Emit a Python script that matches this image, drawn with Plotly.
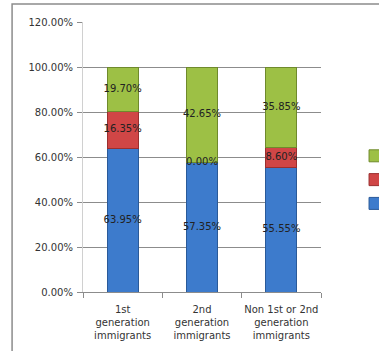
import plotly.graph_objects as go

categories = ["1st<br>generation<br>immigrants", "2nd<br>generation<br>immigrants", "Non 1st or 2nd<br>generation<br>immigrants"]
blue_vals = [63.95, 57.35, 55.55]
red_vals = [16.35, 0.00, 8.60]
green_vals = [19.70, 42.65, 35.85]
y_ticks = [0, 20, 40, 60, 80, 100, 120]

series = [
    ("", blue_vals, "#3d7bcc", "#2a5a99"),
    (" ", red_vals, "#d04646", "#9a2f2f"),
    ("  ", green_vals, "#9dc045", "#6f8a2c"),
]

fig = go.Figure()
base = [0.0] * len(categories)
label_x, label_y, label_t = [], [], []
for name, vals, col, edge in series:
    fig.add_trace(go.Bar(
        x=categories, y=vals, name=name,
        marker=dict(color=col, line=dict(color=edge, width=1)),
        showlegend=True, hoverinfo="skip",
    ))
    for i, v in enumerate(vals):
        label_x.append(categories[i])
        label_y.append(base[i] + v / 2)
        label_t.append(f"{v:.2f}%")
        base[i] += v

fig.add_trace(go.Scatter(
    x=label_x, y=label_y, text=label_t, mode="text",
    textfont=dict(family="DejaVu Sans", size=10, color="#222222"),
    showlegend=False, hoverinfo="skip",
))

fig.add_shape(type="rect", xref="paper", yref="paper",
              x0=-0.298, y0=-0.5, x1=1.6, y1=1.067,
              line=dict(color="#8c8c8c", width=1.5), fillcolor="rgba(0,0,0,0)", layer="below")

fig.update_layout(
    width=379, height=351,
    margin=dict(l=83, r=58, t=22, b=59, autoexpand=False),
    barmode="stack", bargap=0.61,
    plot_bgcolor="white", paper_bgcolor="white",
    font=dict(family="DejaVu Sans", size=10, color="#333333"),
    legend=dict(x=1.143, y=0.567, xanchor="left", yanchor="top",
                traceorder="reversed", font=dict(size=16),
                bgcolor="rgba(0,0,0,0)"),
    xaxis=dict(showline=True, linecolor="#8c8c8c", ticks="outside", tickson="boundaries",
               ticklen=5, tickcolor="#8c8c8c", showgrid=False, tickangle=0, automargin=False,
               ticklabelstandoff=8,
               tickfont=dict(size=10, color="#333333")),
    yaxis=dict(range=[0, 120], tickvals=y_ticks, automargin=False,
               ticktext=[f"{t:.2f}%" for t in y_ticks],
               showline=True, linecolor="#d0d0d0", ticks="outside", ticklen=5,
               ticklabelstandoff=2,
               tickcolor="#8c8c8c", showgrid=True, gridcolor="#8c8c8c", gridwidth=1,
               zeroline=False, tickfont=dict(size=10, color="#333333")),
)

fig.write_html("out.html")
